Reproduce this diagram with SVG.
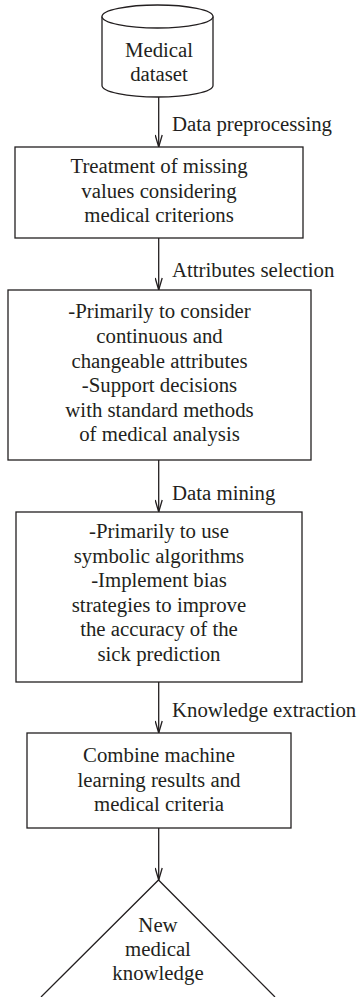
<svg xmlns="http://www.w3.org/2000/svg" width="358" height="997" viewBox="0 0 358 997">
<style>
.s{fill:#fff;stroke:#231f20;stroke-width:1.3}
.c{fill:none;stroke:#231f20;stroke-width:1.3}
text{font-family:"Liberation Serif","Times New Roman",serif;font-size:20.8px;fill:#231f20}
.m{text-anchor:middle}
</style>
<defs>
<marker id="ah" viewBox="0 0 14 8" refX="13" refY="4" markerWidth="14" markerHeight="8" markerUnits="userSpaceOnUse" orient="auto">
<path d="M1,0.5 L13,4 L1,7.5" fill="none" stroke="#231f20" stroke-width="1.3"/>
</marker>
</defs>
<rect width="358" height="997" fill="#fff"/>
<g id="connectors">
<line class="c" x1="158.7" y1="97" x2="158.7" y2="147" marker-end="url(#ah)"/>
<line class="c" x1="158.7" y1="238" x2="158.7" y2="290" marker-end="url(#ah)"/>
<line class="c" x1="158.7" y1="460" x2="158.7" y2="512" marker-end="url(#ah)"/>
<line class="c" x1="158.7" y1="682" x2="158.7" y2="733" marker-end="url(#ah)"/>
<line class="c" x1="158.7" y1="828" x2="158.7" y2="880" marker-end="url(#ah)"/>
<text x="172" y="131">Data preprocessing</text>
<text x="172" y="277">Attributes selection</text>
<text x="172" y="500">Data mining</text>
<text x="172" y="717">Knowledge extraction</text>
</g>
<g id="dataset">
<path class="s" d="M102,16.5 V85.5 A55.5,11.5 0 0 0 213,85.5 V16.5"/>
<ellipse class="s" cx="157.5" cy="16.5" rx="55.5" ry="11.5"/>
<text class="m" x="159" y="57">Medical</text>
<text class="m" x="159" y="81">dataset</text>
</g>
<g id="treatment">
<rect class="s" x="15" y="147" width="288" height="91"/>
<text class="m" x="159" y="173">Treatment of missing</text>
<text class="m" x="159" y="197.5">values considering</text>
<text class="m" x="159" y="222">medical criterions</text>
</g>
<g id="attributes">
<rect class="s" x="8" y="290" width="303" height="170"/>
<text class="m" x="159.5" y="318">-Primarily to consider</text>
<text class="m" x="159.5" y="343">continuous and</text>
<text class="m" x="159.5" y="368">changeable attributes</text>
<text class="m" x="159.5" y="392">-Support decisions</text>
<text class="m" x="159.5" y="417">with standard methods</text>
<text class="m" x="159.5" y="441">of medical analysis</text>
</g>
<g id="mining">
<rect class="s" x="16" y="512" width="286" height="170"/>
<text class="m" x="159" y="538">-Primarily to use</text>
<text class="m" x="159" y="562.5">symbolic algorithms</text>
<text class="m" x="159" y="587">-Implement bias</text>
<text class="m" x="159" y="611.5">strategies to improve</text>
<text class="m" x="159" y="636">the accuracy of the</text>
<text class="m" x="159" y="660.5">sick prediction</text>
</g>
<g id="combine">
<rect class="s" x="27" y="733" width="264" height="95"/>
<text class="m" x="159" y="762">Combine machine</text>
<text class="m" x="159" y="787">learning results and</text>
<text class="m" x="159" y="811">medical criteria</text>
</g>
<g id="knowledge">
<path class="c" d="M41,997 L158.5,880 L275,997"/>
<text class="m" x="158" y="932">New</text>
<text class="m" x="158" y="956">medical</text>
<text class="m" x="158" y="980">knowledge</text>
</g>
</svg>
